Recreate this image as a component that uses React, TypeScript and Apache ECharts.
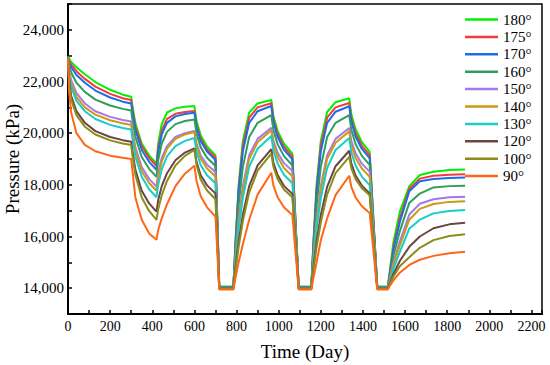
import React, { useEffect, useRef } from "react";
import * as echarts from "echarts";

const days = [
  0, 5, 15, 40, 80, 130, 200, 260, 300,
  305, 320, 350, 385, 420,
  428, 445, 470, 510, 555, 600,
  610, 630, 660, 700,
  718, 785,
  795, 810, 830, 860, 900, 965,
  975, 995, 1025, 1065,
  1095, 1155,
  1165, 1180, 1200, 1230, 1270, 1335,
  1345, 1365, 1395, 1432,
  1468, 1518,
  1528, 1545, 1575, 1620, 1670, 1735, 1810, 1885,
];

const names = ["180°", "175°", "170°", "160°", "150°", "140°", "130°", "120°", "100°", "90°"];
const colors = ["#00F000", "#F23C3C", "#1F6BE8", "#2E9E5B", "#A877E8", "#CC9914", "#19CCCC", "#6B4545", "#8C8C1A", "#FF6619"];

const p180 = [
  22980, 22880, 22760, 22550, 22280, 21980, 21680, 21490, 21410,
  21100, 20380, 19600, 19140, 18830,
  19600, 20350, 20800, 20960, 21020, 21050,
  20480, 19910, 19490, 19150,
  14060, 14060,
  15800, 18000, 19700, 20800, 21150, 21285,
  20665, 20090, 19590, 19220,
  14060, 14060,
  15800, 18000, 19700, 20820, 21200, 21350,
  20730, 20150, 19650, 19280,
  14060, 14060,
  14700, 15800, 16950, 17950, 18380, 18505, 18570, 18590,
];
const p175 = [
  22950, 22800, 22650, 22400, 22100, 21800, 21520, 21350, 21280,
  20970, 20260, 19500, 19040, 18730,
  19400, 20100, 20550, 20750, 20820, 20860,
  20320, 19780, 19380, 19060,
  14050, 14050,
  15700, 17850, 19500, 20600, 21000, 21160,
  20540, 19965, 19470, 19100,
  14050, 14050,
  15700, 17850, 19500, 20600, 21000, 21170,
  20560, 19990, 19510, 19150,
  14050, 14050,
  14600, 15600, 16700, 17850, 18240, 18350, 18395, 18410,
];
const p170 = [
  22950, 22750, 22550, 22250, 21950, 21650, 21380, 21220, 21150,
  20840, 20120, 19350, 18890, 18580,
  19250, 19950, 20400, 20650, 20740, 20790,
  20240, 19690, 19290, 18960,
  14040, 14040,
  15600, 17700, 19300, 20400, 20850, 21050,
  20430, 19855, 19360, 18990,
  14040, 14040,
  15600, 17700, 19300, 20400, 20830, 21040,
  20440, 19870, 19390, 19030,
  14040, 14040,
  14550, 15500, 16550, 17750, 18140, 18230, 18265, 18280,
];
const p160 = [
  22950, 22650, 22350, 21950, 21600, 21300, 21070, 20940, 20880,
  20570, 19850, 19080, 18620, 18310,
  18950, 19600, 20050, 20350, 20470, 20530,
  19990, 19450, 19050, 18730,
  14030, 14030,
  15400, 17200, 18700, 19850, 20400, 20700,
  20120, 19575, 19110, 18760,
  14030, 14030,
  15400, 17200, 18700, 19850, 20400, 20700,
  20120, 19580, 19120, 18770,
  14030, 14030,
  14450, 15250, 16200, 17300, 17660, 17900, 17950, 17960,
];
const p150 = [
  22900, 22450, 22050, 21550, 21150, 20850, 20630, 20510, 20450,
  20150, 19440, 18690, 18230, 17930,
  18450, 19050, 19500, 19850, 20000, 20080,
  19610, 19130, 18780, 18500,
  14020, 14020,
  15200, 16650, 17950, 19150, 19780, 20210,
  19710, 19240, 18840, 18540,
  14020, 14020,
  15200, 16650, 17950, 19150, 19780, 20200,
  19690, 19220, 18820, 18510,
  14020, 14020,
  14350, 15000, 15800, 16850, 17270, 17440, 17515, 17540,
];
const p140 = [
  22900, 22400, 21950, 21400, 21000, 20720, 20500, 20380, 20320,
  20010, 19300, 18530, 18070, 17770,
  18300, 18900, 19400, 19780, 19950, 20040,
  19520, 19010, 18630, 18320,
  14010, 14010,
  15100, 16500, 17800, 19000, 19650, 20110,
  19580, 19080, 18650, 18330,
  14010, 14010,
  15100, 16500, 17800, 19000, 19630, 20070,
  19540, 19050, 18630, 18310,
  14010, 14010,
  14300, 14900, 15650, 16650, 17070, 17260, 17340, 17360,
];
const p130 = [
  22900, 22300, 21800, 21250, 20850, 20550, 20320, 20200, 20140,
  19830, 19090, 18310, 17830, 17520,
  18000, 18600, 19100, 19500, 19700, 19810,
  19290, 18760, 18370, 18060,
  14000, 14000,
  15000, 16300, 17500, 18700, 19400, 19890,
  19340, 18830, 18390, 18060,
  14000, 14000,
  15000, 16300, 17480, 18650, 19350, 19810,
  19260, 18750, 18320, 17990,
  14000, 14000,
  14250, 14750, 15400, 16300, 16650, 16895, 16990, 17025,
];
const p120 = [
  22900, 22100, 21450, 20850, 20400, 20080, 19850, 19730, 19670,
  19340, 18580, 17770, 17280, 16960,
  17400, 17950, 18450, 18950, 19250, 19410,
  18890, 18370, 17980, 17670,
  13990, 13990,
  14800, 15800, 16850, 17950, 18750, 19380,
  18860, 18380, 17960, 17650,
  13990, 13990,
  14800, 15800, 16830, 17920, 18720, 19320,
  18820, 18360, 17970, 17670,
  13990, 13990,
  14200, 14550, 15050, 15600, 16000, 16320, 16470, 16530,
];
const p100 = [
  22900, 22000, 21300, 20700, 20250, 19950, 19720, 19600, 19540,
  19190, 18380, 17510, 16990, 16640,
  17050, 17600, 18150, 18750, 19120, 19350,
  18780, 18200, 17780, 17440,
  13970, 13970,
  14700, 15600, 16600, 17700, 18550, 19210,
  18700, 18230, 17820, 17520,
  13970, 13970,
  14700, 15580, 16550, 17620, 18450, 19080,
  18640, 18220, 17870, 17600,
  13970, 13970,
  14150, 14450, 14850, 15200, 15560, 15860, 16020, 16090,
];
const p90 = [
  22900, 21600, 20800, 20000, 19550, 19300, 19130, 19050, 19000,
  18620, 17500, 16650, 16120, 15870,
  16250, 16700, 17250, 17950, 18430, 18740,
  18150, 17560, 17130, 16770,
  13950, 13950,
  14400, 15000, 15700, 16650, 17620, 18470,
  17980, 17520, 17130, 16830,
  13950, 13950,
  14400, 15000, 15850, 16700, 17600, 18350,
  17920, 17510, 17170, 16910,
  13950, 13950,
  14100, 14300, 14600, 14900, 15100, 15250, 15350, 15405,
];

const seriesValues = [p180, p175, p170, p160, p150, p140, p130, p120, p100, p90];

const FONT = "Liberation Serif";

export default function App() {
  const ref = useRef<HTMLDivElement>(null);

  useEffect(() => {
    if (!ref.current) return;
    const chart = echarts.init(ref.current, undefined, { renderer: "svg" });
    const series = seriesValues.map((vals, i) => ({
      name: names[i],
      type: "line",
      symbol: "none",
      data: days.map((d, k) => [d, vals[k]]),
      lineStyle: { width: 2, color: colors[i] },
      itemStyle: { color: colors[i] },
      z: 3,
    }));
    chart.setOption({
      animation: false,
      backgroundColor: "#fff",
      textStyle: { fontFamily: FONT, color: "#000" },
      grid: {
        left: 68,
        right: 8,
        top: 4,
        bottom: 51,
        containLabel: false,
        outerBoundsMode: "none",
        show: true,
        borderColor: "#000",
        borderWidth: 1.5,
        backgroundColor: "transparent",
      },
      legend: {
        orient: "vertical",
        left: 465,
        top: 12,
        padding: 0,
        icon: "rect",
        itemWidth: 33,
        itemHeight: 2.5,
        itemGap: 2.4,
        textStyle: { fontFamily: FONT, fontSize: 15, color: "#000" },
        data: names,
      },
      xAxis: {
        type: "value",
        min: 0,
        max: 2250,
        interval: 100,
        name: "Time (Day)",
        nameLocation: "middle",
        nameGap: 28,
        nameMoveOverlap: false,
        nameTextStyle: { fontFamily: FONT, fontSize: 19, color: "#000" },
        axisLine: { show: true, lineStyle: { color: "#000", width: 2 } },
        axisTick: { show: true, inside: true, length: 4, lineStyle: { color: "#000", width: 1.5 } },
        axisLabel: {
          margin: 5,
          fontFamily: FONT,
          fontSize: 14,
          color: "#000",
          formatter: (v: number) => (v % 200 === 0 && v <= 2200 ? String(v) : ""),
        },
        splitLine: { show: false },
      },
      yAxis: {
        type: "value",
        min: 13000,
        max: 25000,
        interval: 1000,
        name: "Pressure (kPa)",
        nameLocation: "middle",
        nameGap: 46,
        nameMoveOverlap: false,
        nameTextStyle: { fontFamily: FONT, fontSize: 19, color: "#000" },
        axisLine: { show: true, lineStyle: { color: "#000", width: 2 } },
        axisTick: { show: true, inside: true, length: 4, lineStyle: { color: "#000", width: 1.5 } },
        axisLabel: {
          margin: 4,
          fontFamily: FONT,
          fontSize: 15,
          color: "#000",
          formatter: (v: number) =>
            v % 2000 === 0 && v >= 14000 && v <= 24000 ? v.toLocaleString("en-US") : "",
        },
        splitLine: { show: false },
      },
      series,
    });
    return () => chart.dispose();
  }, []);

  return (
    <div
      ref={ref}
      style={{ position: "fixed", left: 0, top: 0, width: 550, height: 365, background: "#fff" }}
    />
  );
}
